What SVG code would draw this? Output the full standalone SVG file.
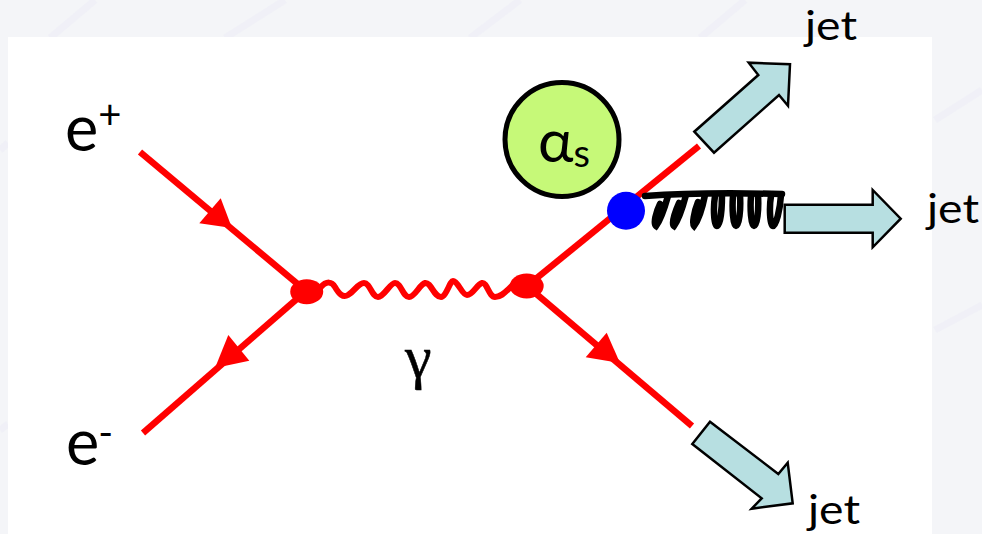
<svg xmlns="http://www.w3.org/2000/svg" width="982" height="534" viewBox="0 0 982 534">
<style>
text{font-family:"Lato","Open Sans","Liberation Sans",sans-serif;fill:#000}
.fermion{fill:none;stroke:#ff0000;stroke-width:6.500;stroke-linecap:butt}
.head{fill:#ff0000}
.jet{fill:#b7dfe1;stroke:#000;stroke-width:2.500;stroke-linejoin:miter}
.coil{fill:none;stroke:#000;stroke-width:6.500;stroke-linecap:round}
.streak{fill:none;stroke:#eceaf6;stroke-width:7;opacity:.45}
.lbl{font-size:63px}
.jt{font-size:40px}
</style>
<g id="background">
<rect width="982" height="534" fill="#f4f5f8"/>
<path class="streak" d="M50,38 L95,0 M225,38 L285,0 M470,38 L520,0 M700,38 L745,0 M935,120 L982,90 M935,330 L982,305 M0,150 L8,143 M0,430 L8,424"/>
<rect x="8" y="37" width="924" height="497" fill="#ffffff"/>
</g>
<g id="connectors">
<path class="fermion" d="M140,152 L306,291"/>
<path class="fermion" d="M143,433 L306,291"/>
<path class="fermion" d="M527,286 L699,146"/>
<path class="fermion" d="M527,286 L692,426"/>
<polygon class="head" points="220.700,198.300 199.300,223.300 232,228"/>
<polygon class="head" points="228.300,335 249.300,360.700 215,368"/>
<polygon class="head" points="606.700,332.700 585.700,357.300 620,363"/>
<path fill="none" stroke="#ff0000" stroke-width="6" stroke-linejoin="round" stroke-linecap="round" d="M320,288 C327,280 332,282 335,287 C339,294 343,298 348,295 C355,291 358,283 364,283 C370,283 372,297 378,297 C384,297 390,283 395,283 C401,283 403,297 409,297 C415,297 420,284 425,283 C431,282 434,297 441,297 C446,297 450,281 453,281 C458,281 462,295 467,295 C473,295 477,284 482,283 C487,282 489,297 495,297 C502,297 506,291 514,284"/>
<g id="gluon">
<path class="coil" d="M645,196 Q700,192 782,194"/>
<path class="coil" d="M668,196 C664,210 659,222 656,226 C653,224 656,212 660,204 M686,195 C682,210 677,222 674,226 C671,224 675,212 679,203 M705,195 C702,210 697,222 694,226 C692,224 694,212 698,202 M722,195 C722,210 720,226 717,226 C714,226 713,208 715,196 M740,195 C741,210 739,226 736,226 C733,226 732,208 733,196 M758,195 C759,210 757,226 754,226 C751,226 750,208 751,196 M781,195 C780,210 776,226 773,226 C770,226 769,208 771,196"/>
</g>
</g>
<g id="vertex-left"><ellipse cx="306.700" cy="291.700" rx="16.500" ry="12.500" fill="#ff0000"/></g>
<g id="vertex-right"><ellipse cx="526.700" cy="286" rx="17" ry="12.500" fill="#ff0000"/></g>
<g id="vertex-strong"><circle cx="626" cy="210.700" r="19" fill="#0000ff"/></g>
<g id="alpha-s">
<circle cx="562" cy="139.500" r="57" fill="#c6f978" stroke="#000" stroke-width="5"/>
<text x="538" y="162" font-size="60">α<tspan font-size="38" dy="5">s</tspan></text>
</g>
<g id="jet-top"><polygon class="jet" points="694.300,131.700 714,152.700 779,95 788,105.700 790,64.300 748.700,62.700 758.300,75"/><text class="jt" x="805" y="40" textLength="52" lengthAdjust="spacingAndGlyphs">jet</text></g>
<g id="jet-right"><polygon class="jet" points="784.700,204.700 872.700,204.700 872.700,190 900.700,218.700 872.700,247.300 872.700,232.700 784.700,232.700"/><text class="jt" x="927" y="223" textLength="52" lengthAdjust="spacingAndGlyphs">jet</text></g>
<g id="jet-bottom"><polygon class="jet" points="710,421.700 778.300,474 787.700,462.700 792.700,503.300 751.700,508.700 761.700,498.300 692.300,444"/><text class="jt" x="808" y="524" textLength="52" lengthAdjust="spacingAndGlyphs">jet</text></g>
<g id="label-eplus"><text class="lbl" x="65" y="151">e<tspan font-size="40" dy="-22">+</tspan></text></g>
<g id="label-eminus"><text class="lbl" x="66" y="465">e<tspan font-size="40" dy="-18" dx="-1">-</tspan></text></g>
<g id="label-gamma"><text x="405" y="377" font-size="60" style="font-family:'Liberation Serif',serif" stroke="#000" stroke-width=".5">γ</text></g>
</svg>
